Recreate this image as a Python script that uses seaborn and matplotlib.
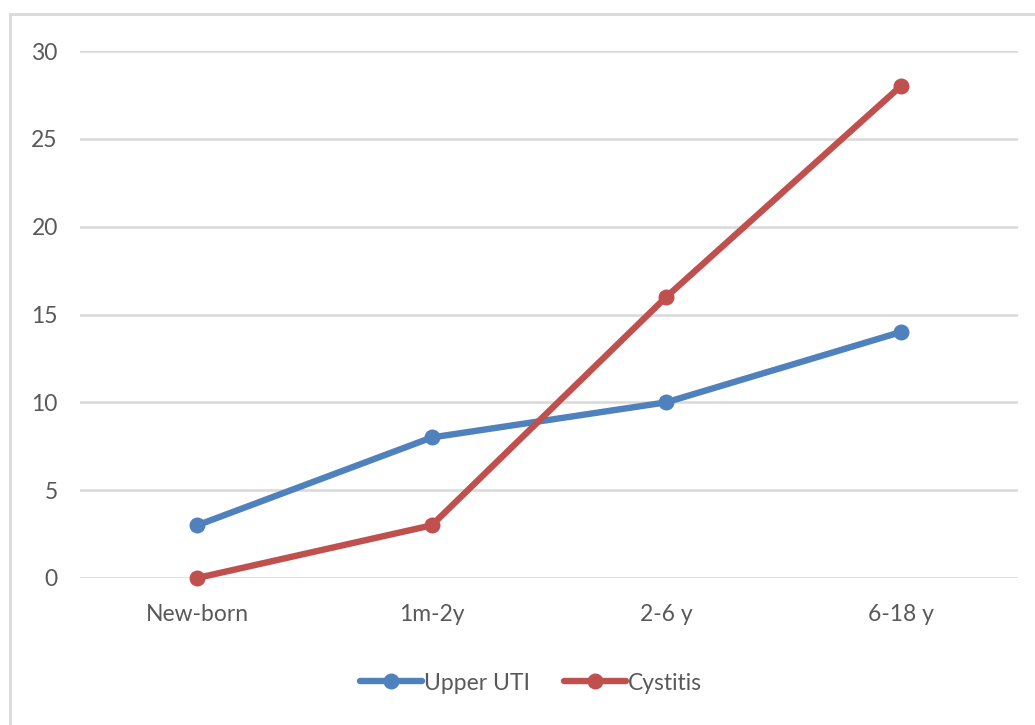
import matplotlib
matplotlib.use("Agg")
import matplotlib.pyplot as plt
import seaborn as sns
import pandas as pd
from matplotlib.patches import Rectangle

categories = ["New-born", "1m-2y", "2-6 y", "6-18 y"]
upper_uti = [3, 8, 10, 14]
cystitis = [0, 3, 16, 28]
series_names = ["Upper UTI", "Cystitis"]
yticks = [0, 5, 10, 15, 20, 25, 30]

df = pd.DataFrame({
    "cat": categories * 2,
    "x": list(range(len(categories))) * 2,
    "value": upper_uti + cystitis,
    "series": [series_names[0]] * len(categories) + [series_names[1]] * len(categories),
})

sns.set_theme(style="white")
plt.rcParams["font.family"] = ["Lato", "DejaVu Sans"]
text_color = "#595959"
grid_color = "#D9D9D9"

fig = plt.figure(figsize=(10.35, 7.25), dpi=100)
ax = fig.add_axes([80 / 1035, 1 - 578 / 725, (1018 - 80) / 1035, (578 - 51) / 725])

palette = {"Upper UTI": "#4F81BD", "Cystitis": "#C0504D"}
sns.lineplot(data=df, x="x", y="value", hue="series", palette=palette, marker="o",
             markersize=11.5, markeredgewidth=0, linewidth=4.6, ax=ax, legend=True,
             solid_capstyle="round")

ax.set_xlim(-0.5, len(categories) - 0.5)
ax.set_ylim(0, 30)
ax.set_yticks(yticks)
ax.set_xticks(range(len(categories)))
ax.set_xticklabels(categories)
ax.set_xlabel("")
ax.set_ylabel("")
for s in ax.spines.values():
    s.set_visible(False)
ax.grid(axis="y", color=grid_color, linewidth=1.8)
ax.set_axisbelow(True)
ax.tick_params(axis="y", length=0, pad=16, labelsize=16.5, labelcolor=text_color)
ax.tick_params(axis="x", length=0, pad=19, labelsize=16.5, labelcolor=text_color)
for l in ax.get_lines():
    l.set_clip_on(False)

handles, labels = ax.get_legend_handles_labels()
ax.legend_.remove()
fig.legend(handles, labels, loc="center", bbox_to_anchor=(531 / 1035, 1 - 683 / 725),
           ncol=2, frameon=False, fontsize=16.5, labelcolor=text_color,
           handlelength=2.7, handletextpad=0.1, columnspacing=1.5)

rect = Rectangle((10 / 1035, -0.1), 1.2, 1 - 14 / 725 + 0.1, transform=fig.transFigure,
                 fill=False, edgecolor=grid_color, linewidth=2, clip_on=False)
fig.patches.append(rect)

fig.savefig("out.png", dpi=100)
